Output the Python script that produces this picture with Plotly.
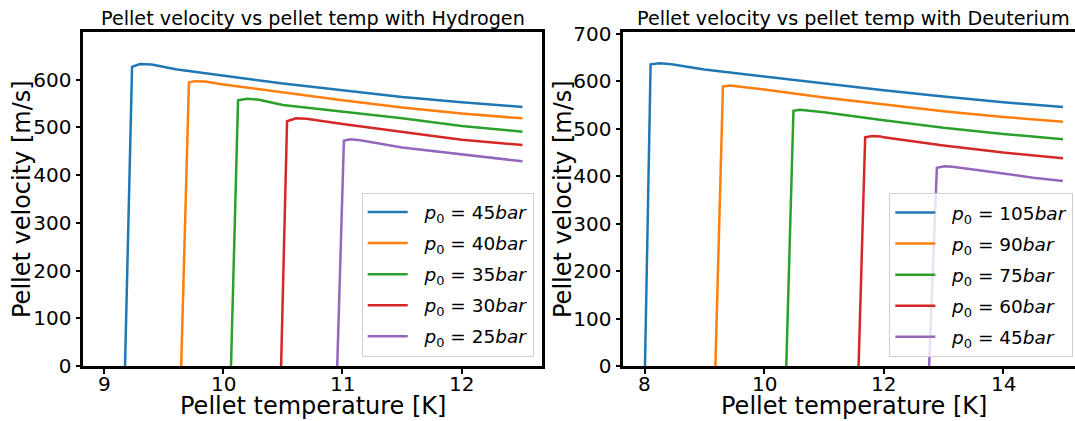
import plotly.graph_objects as go

# ---- Hydrogen: pellet temperature [K] vs pellet velocity [m/s] ----
h2_labels = ["45", "40", "35", "30", "25"]
h2_T = [
    [9.176, 9.235, 9.30, 9.4, 9.6, 10.0, 10.5, 11.0, 11.5, 12.0, 12.51],
    [9.647, 9.712, 9.76, 9.85, 10.0, 10.5, 11.0, 11.5, 12.0, 12.51],
    [10.065, 10.124, 10.20, 10.3, 10.5, 11.0, 11.5, 12.0, 12.51],
    [10.485, 10.535, 10.61, 10.7, 11.0, 11.5, 12.0, 12.51],
    [10.956, 11.012, 11.065, 11.15, 11.5, 12.0, 12.51],
]
h2_v = [
    [0, 627, 633, 632, 622, 608, 592, 578, 564, 553, 543],
    [0, 594, 597, 596, 590, 573, 557, 542, 529, 519],
    [0, 557, 560, 558, 547, 533, 519, 503, 491],
    [0, 513, 519, 518, 507, 491, 474, 463],
    [0, 472, 475, 473, 458, 443, 429],
]
h2_xticks = [9, 10, 11, 12]

# ---- Deuterium ----
d2_labels = ["105", "90", "75", "60", "45"]
d2_T = [
    [8.006, 8.10, 8.25, 8.45, 9.0, 10.0, 11.0, 12.0, 13.0, 14.0, 15.0],
    [9.184, 9.31, 9.43, 9.6, 10.0, 11.0, 12.0, 13.0, 14.0, 15.0],
    [10.37, 10.49, 10.60, 10.75, 11.0, 12.0, 13.0, 14.0, 15.0],
    [11.58, 11.69, 11.81, 11.95, 12.0, 13.0, 14.0, 15.0],
    [12.76, 12.89, 13.02, 13.15, 13.5, 14.0, 14.5, 15.0],
]
d2_v = [
    [0, 636, 638, 636, 625, 610, 595, 581, 568, 556, 546],
    [0, 589, 591, 589, 583, 566, 551, 537, 525, 515],
    [0, 538, 540, 538, 535, 518, 502, 489, 478],
    [0, 482, 485, 484, 482, 465, 450, 438],
    [0, 418, 421, 420, 414, 405, 397, 390],
]
d2_xticks = [8, 10, 12, 14]

colors = ["#1f77b4", "#ff7f0e", "#2ca02c", "#d62728", "#9467bd"]
FONT = "DejaVu Sans"
W, H = 1075, 421


def legend_name(p):
    return f"&nbsp;&nbsp;<i>p</i><sub>0</sub> = {p}<i>bar</i>"


fig = go.Figure()

for i, (xs, ys, lab) in enumerate(zip(h2_T, h2_v, h2_labels)):
    fig.add_trace(go.Scatter(
        x=xs, y=ys, mode="lines", line=dict(color=colors[i], width=2.5),
        name=legend_name(lab),
        legend="legend", legendgroup=f"h{i}", xaxis="x", yaxis="y",
    ))

for i, (xs, ys, lab) in enumerate(zip(d2_T, d2_v, d2_labels)):
    fig.add_trace(go.Scatter(
        x=xs, y=ys, mode="lines", line=dict(color=colors[i], width=2.5),
        name=legend_name(lab),
        legend="legend2", legendgroup=f"d{i}", xaxis="x2", yaxis="y2",
    ))

axis_common = dict(
    showline=True, linecolor="black", linewidth=2.5,
    ticks="outside", ticklen=5, tickwidth=2, tickcolor="black",
    showgrid=False, zeroline=False, tickangle=0,
    tickfont=dict(family=FONT, size=20, color="black"),
)

legend_common = dict(
    bgcolor="rgba(255,255,255,0.8)", bordercolor="#d0d0d0", borderwidth=1,
    font=dict(family=FONT, size=18.5, color="black"),
    xanchor="left", yanchor="top", tracegroupgap=4, itemwidth=40,
)

fig.update_layout(
    width=W, height=H,
    margin=dict(l=0, r=0, t=32, b=55),
    plot_bgcolor="white", paper_bgcolor="white",
    font=dict(family=FONT, color="black"),
    xaxis=dict(domain=[83.3 / W, 541.7 / W], range=[8.826, 12.671],
               tickvals=h2_xticks, showticklabels=False, mirror=True, anchor="y",
               **axis_common),
    yaxis=dict(domain=[0, 1], range=[0, 700],
               tickvals=[0, 100, 200, 300, 400, 500, 600], mirror=True,
               anchor="x", **axis_common),
    xaxis2=dict(domain=[623.3 / W, 1.0], range=[7.643, 15.201],
                tickvals=d2_xticks, showticklabels=False, mirror=True, anchor="y2",
                **axis_common),
    yaxis2=dict(domain=[0, 1], range=[0, 704],
                tickvals=[0, 100, 200, 300, 400, 500, 600, 700], mirror=False,
                anchor="x2", **axis_common),
    legend=dict(x=361.7 / W, y=(366 - 192.5) / 334, **legend_common),
    legend2=dict(x=889.3 / W, y=(366 - 193) / 334, **legend_common),
    showlegend=True,
)

# x tick labels, placed on each axis at its tick values
for xref, ticks in (("x", h2_xticks), ("x2", d2_xticks)):
    for t in ticks:
        fig.add_annotation(text=str(t), x=t, xref=xref, y=0, yref="paper",
                           xanchor="center", yanchor="top", yshift=-4,
                           showarrow=False,
                           font=dict(family=FONT, size=20, color="black"))

titles = [
    ("Pellet velocity vs pellet temp with Hydrogen", 312.5),
    ("Pellet velocity vs pellet temp with Deuterium", 853.7),
]
for text, cx in titles:
    fig.add_annotation(text=text, x=cx / W, y=1, xref="paper", yref="paper",
                       xanchor="center", yanchor="bottom", showarrow=False,
                       font=dict(family=FONT, size=19.2, color="black"))

for cx in (312.5, 853.7):
    fig.add_annotation(text="Pellet temperature [K]", x=cx / W, y=(366 - 406) / 334,
                       xref="paper", yref="paper", xanchor="center", yanchor="middle",
                       showarrow=False, font=dict(family=FONT, size=24, color="black"))

for cx in (22, 563):
    fig.add_annotation(text="Pellet velocity [m/s]", x=cx / W, y=0.5, textangle=-90,
                       xref="paper", yref="paper", xanchor="center", yanchor="middle",
                       showarrow=False, font=dict(family=FONT, size=24, color="black"))

fig.write_html("out.html")
